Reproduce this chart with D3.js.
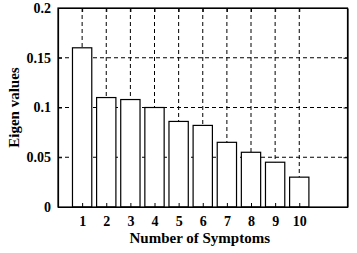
<!DOCTYPE html>
<html>
<head>
<meta charset="utf-8">
<style>
body { margin: 0; padding: 0; background: white; overflow: hidden; }
text { font-family: "Liberation Serif", "Times New Roman", serif; font-weight: bold; fill: black; }
.grid line { stroke: black; stroke-width: 1; stroke-dasharray: 4,3; }
</style>
</head>
<body>
<script src="https://d3js.org/d3.v7.min.js"></script>
<script>
var symptoms = [1, 2, 3, 4, 5, 6, 7, 8, 9, 10];
var eigenValues = [0.16, 0.11, 0.108, 0.1, 0.086, 0.082, 0.065, 0.055, 0.045, 0.03];
var yTicks = [0, 0.05, 0.1, 0.15, 0.2];
var yTickLabels = ["0", "0.05", "0.1", "0.15", "0.2"];

var margin = { top: 8, right: 9.5, bottom: 46, left: 58 },
    width = 357 - margin.left - margin.right,
    height = 253 - margin.top - margin.bottom;

var x = d3.scaleLinear().domain([0, 12]).range([0, width]);
var y = d3.scaleLinear().domain([0, 0.2]).range([height, 0]);

var svg = d3.select("body").append("svg")
    .attr("width", 357)
    .attr("height", 253)
    .append("g")
    .attr("transform", "translate(" + margin.left + "," + margin.top + ")");

// grid lines
var grid = svg.append("g").attr("class", "grid");
grid.selectAll(".gx")
    .data(symptoms)
    .enter().append("line")
    .attr("x1", d => x(d)).attr("x2", d => x(d))
    .attr("y1", 0).attr("y2", height);
grid.selectAll(".gy")
    .data(yTicks.slice(1, -1))
    .enter().append("line")
    .attr("x1", 0).attr("x2", width)
    .attr("y1", d => y(d)).attr("y2", d => y(d));

// bars
var bw = x(0.8) - x(0);
svg.selectAll(".bar")
    .data(symptoms)
    .enter().append("rect")
    .attr("x", d => x(d) - bw / 2)
    .attr("width", bw)
    .attr("y", (d, i) => y(eigenValues[i]))
    .attr("height", (d, i) => height - y(eigenValues[i]))
    .attr("fill", "white")
    .attr("stroke", "black")
    .attr("stroke-width", 1.2);

// axes (ticks inside)
var xAxis = d3.axisBottom(x).tickValues(symptoms).tickSizeInner(-4).tickSizeOuter(0).tickPadding(9);
var yAxis = d3.axisLeft(y).tickValues(yTicks).tickFormat((d, i) => yTickLabels[i]).tickSizeInner(-4).tickSizeOuter(0).tickPadding(7);

var gx = svg.append("g").attr("transform", "translate(0," + height + ")").call(xAxis);
var gy = svg.append("g").call(yAxis);
svg.append("g").call(d3.axisTop(x).tickValues(symptoms).tickSizeInner(-4).tickSizeOuter(0).tickFormat(""));
svg.append("g").attr("transform", "translate(" + width + ",0)")
    .call(d3.axisRight(y).tickValues(yTicks).tickSizeInner(-4).tickSizeOuter(0).tickFormat(""));

svg.selectAll(".domain").attr("stroke", "black").attr("stroke-width", 1.2);
svg.selectAll(".tick line").attr("stroke", "black");
gx.selectAll("text").style("font-size", "14px").style("font-family", "Liberation Serif");
gy.selectAll("text").style("font-size", "14px").style("font-family", "Liberation Serif");

svg.append("rect")
    .attr("width", width).attr("height", height)
    .attr("fill", "none").attr("stroke", "black").attr("stroke-width", 1.2);

svg.append("text")
    .attr("x", width / 2 - 3)
    .attr("y", height + 36)
    .attr("text-anchor", "middle")
    .style("font-size", "15px")
    .text("Number of Symptoms");

svg.append("text")
    .attr("transform", "translate(-39," + (height / 2) + ") rotate(-90)")
    .attr("text-anchor", "middle")
    .style("font-size", "15px")
    .text("Eigen values");
</script>
</body>
</html>
